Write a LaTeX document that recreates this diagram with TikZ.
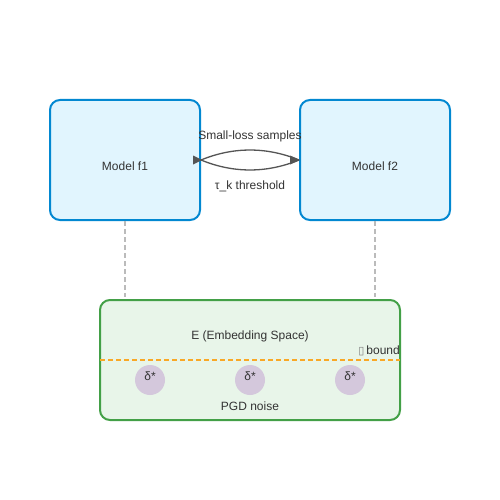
\documentclass[tikz,border=0pt]{standalone}
\usepackage{fontspec}
\setmainfont{Liberation Sans}
\newfontfamily\dejavu{DejaVu Sans}
\definecolor{mblue}{HTML}{0288D1}
\definecolor{mbluefill}{HTML}{E1F5FE}
\definecolor{egreen}{HTML}{43A047}
\definecolor{egreenfill}{HTML}{E8F5E9}
\definecolor{bnd}{HTML}{F9A825}
\definecolor{dot}{HTML}{D4C8DC}
\definecolor{txt}{HTML}{333333}
\definecolor{arr}{HTML}{555555}
\definecolor{vline}{HTML}{BBBBBB}
\begin{document}
\begin{tikzpicture}[x=1pt,y=-1pt,
  every node/.style={font=\fontsize{12}{14}\selectfont, text=txt, inner sep=0pt},
  modelbox/.style={draw=mblue, fill=mbluefill, line width=2pt, rounded corners=10pt, minimum width=150pt, minimum height=120pt},
  embbox/.style={draw=egreen, fill=egreenfill, line width=2pt, rounded corners=10pt, minimum width=300pt, minimum height=120pt},
  noisedot/.style={circle, fill=dot, minimum size=30pt},
  link/.style={draw=arr, line width=1.3pt},
  head/.style={fill=arr},
  guide/.style={draw=vline, line width=1.6pt, dash pattern=on 5pt off 3pt},
  boundline/.style={draw=bnd, line width=1.5pt, dash pattern=on 5pt off 3pt}]
\useasboundingbox (0,0) rectangle (500,500);
\node[modelbox] (f1) at (125,160) {};
\node at (125,166) (f1t) {Model f1};
\node[modelbox] (f2) at (375,160) {};
\node at (375,166) (f2t) {Model f2};
\node[embbox] (E) at (250,360) {};
\node at (250,336) (Et) {E (Embedding Space)};
\coordinate (bl) at (100,360);
\coordinate (br) at (400,360);
\draw[boundline] (bl) -- (br);
\node[anchor=east] (bt) at (400,351) {{\dejavu\fontsize{11}{12}\selectfont\color{gray}▯}\,bound};
\node[noisedot] (d1) at (150,380) {};
\node[noisedot] (d2) at (250,380) {};
\node[noisedot] (d3) at (350,380) {};
\node (d1t) at (150,376) {δ*};
\node (d2t) at (250,376) {δ*};
\node (d3t) at (350,376) {δ*};
\node (pgd) at (250,406) {PGD noise};
\coordinate (g1) at (125,297);
\coordinate (g2) at (375,297);
\draw[guide] (f1.south) -- (g1);
\draw[guide] (f2.south) -- (g2);
\coordinate (a) at (f1.east);
\coordinate (b) at (f2.west);
\draw[link] (a) .. controls (233.3,146.7) and (266.7,146.7) .. (b);
\draw[link] (a) .. controls (233.3,173.3) and (266.7,173.3) .. (b);
\fill[head] ([xshift=1pt]a) -- ++(-9,-4.5) -- ++(0,9) -- cycle;
\fill[head] ([xshift=1pt]b) -- ++(-10,-4.5) -- ++(0,9) -- cycle;
\node (sl) at (250,136) {Small-loss samples};
\node (tk) at (250,186) {τ\_k threshold};
\end{tikzpicture}
\end{document}
